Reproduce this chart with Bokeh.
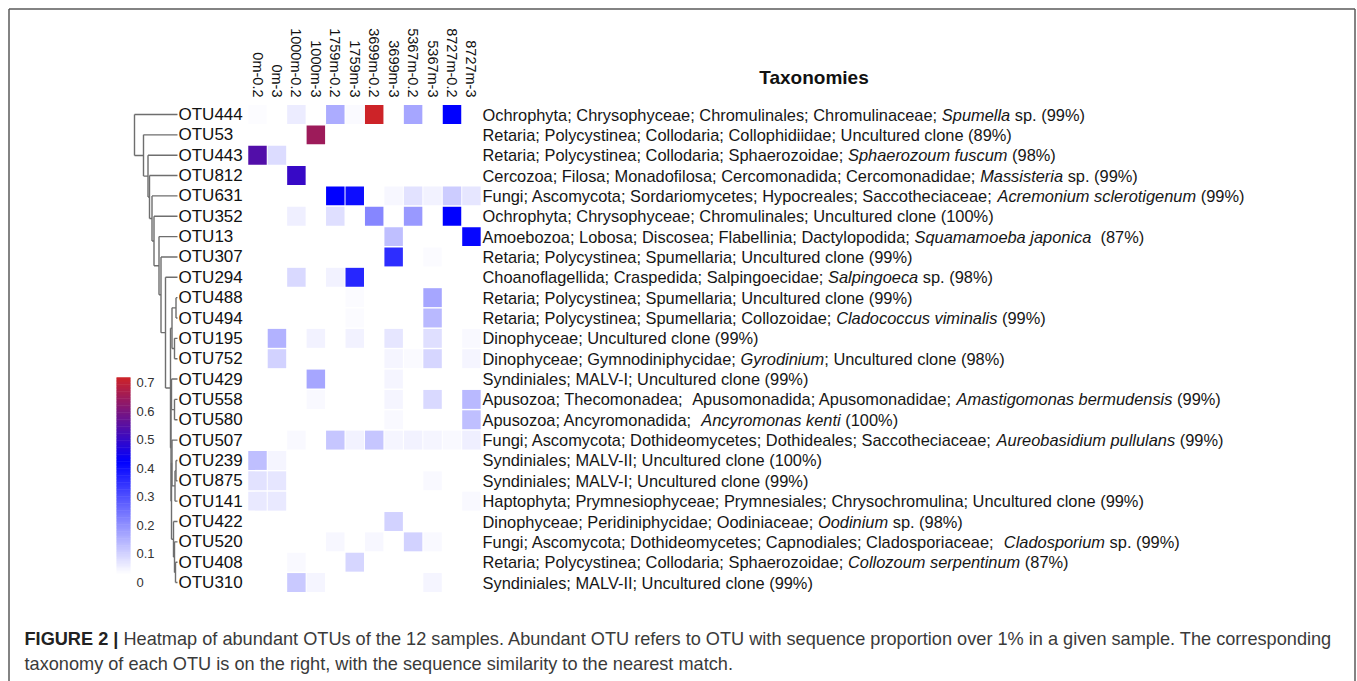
import math
import re
from bokeh.plotting import figure
from bokeh.models import Range1d, ColumnDataSource
from bokeh.core.properties import value
from bokeh.embed import file_html
from bokeh.resources import INLINE

# ---------------- data ----------------
samples = ["0m-0.2", "0m-3", "1000m-0.2", "1000m-3", "1759m-0.2", "1759m-3",
           "3699m-0.2", "3699m-3", "5367m-0.2", "5367m-3", "8727m-0.2", "8727m-3"]

otus = ["OTU444", "OTU53", "OTU443", "OTU812", "OTU631", "OTU352", "OTU13", "OTU307",
        "OTU294", "OTU488", "OTU494", "OTU195", "OTU752", "OTU429", "OTU558", "OTU580",
        "OTU507", "OTU239", "OTU875", "OTU141", "OTU422", "OTU520", "OTU408", "OTU310"]

# sequence proportion of each OTU (rows) in each sample (columns)
abundance = [
    [0.005, 0, 0.03, 0, 0.13, 0.008, 0.70, 0, 0.14, 0, 0.40, 0],
    [0, 0, 0, 0.63, 0, 0, 0, 0, 0, 0, 0, 0],
    [0.52, 0.055, 0, 0, 0, 0, 0, 0, 0, 0, 0, 0],
    [0, 0, 0.48, 0, 0, 0, 0, 0, 0, 0, 0, 0],
    [0, 0, 0, 0, 0.40, 0.38, 0, 0.012, 0.045, 0.02, 0.08, 0.04],
    [0, 0, 0.025, 0, 0.05, 0, 0.19, 0, 0.16, 0, 0.40, 0],
    [0, 0, 0, 0, 0, 0, 0, 0.10, 0, 0, 0, 0.39],
    [0, 0, 0, 0, 0, 0, 0, 0.33, 0, 0.006, 0, 0],
    [0, 0, 0.06, 0, 0.02, 0.34, 0, 0, 0, 0, 0, 0],
    [0, 0, 0, 0, 0, 0.006, 0, 0, 0, 0.14, 0, 0],
    [0, 0, 0, 0, 0, 0.006, 0, 0, 0, 0.11, 0, 0],
    [0, 0.12, 0, 0.02, 0, 0.02, 0, 0.04, 0, 0.05, 0, 0.01],
    [0, 0.07, 0, 0, 0, 0, 0, 0.015, 0.008, 0.065, 0, 0.015],
    [0, 0, 0, 0.14, 0, 0, 0, 0.015, 0, 0, 0, 0],
    [0, 0, 0, 0.01, 0, 0, 0, 0.015, 0, 0.06, 0, 0.11],
    [0, 0, 0, 0, 0, 0, 0, 0.01, 0, 0, 0, 0.10],
    [0, 0, 0.01, 0, 0.09, 0.02, 0.09, 0.015, 0.02, 0.015, 0.01, 0.025],
    [0.10, 0.015, 0, 0, 0, 0, 0, 0, 0, 0, 0, 0],
    [0.045, 0.04, 0, 0, 0, 0, 0, 0, 0, 0.01, 0, 0],
    [0.035, 0.035, 0, 0, 0, 0, 0, 0, 0, 0, 0, 0.01],
    [0, 0, 0, 0, 0, 0, 0, 0.07, 0, 0, 0, 0],
    [0, 0, 0, 0, 0.012, 0, 0.012, 0, 0.07, 0.01, 0, 0],
    [0, 0, 0.01, 0, 0, 0.065, 0, 0, 0, 0, 0, 0],
    [0, 0, 0.085, 0.015, 0, 0, 0, 0, 0, 0.015, 0, 0],
]

# taxonomy; *...* marks italic
taxonomy = [
    "Ochrophyta; Chrysophyceae; Chromulinales; Chromulinaceae; *Spumella* sp. (99%)",
    "Retaria; Polycystinea; Collodaria; Collophidiidae; Uncultured clone (89%)",
    "Retaria; Polycystinea; Collodaria; Sphaerozoidae; *Sphaerozoum fuscum* (98%)",
    "Cercozoa; Filosa; Monadofilosa; Cercomonadida; Cercomonadidae; *Massisteria* sp. (99%)",
    "Fungi; Ascomycota; Sordariomycetes; Hypocreales; Saccotheciaceae; *Acremonium sclerotigenum* (99%)",
    "Ochrophyta; Chrysophyceae; Chromulinales; Uncultured clone (100%)",
    "Amoebozoa; Lobosa; Discosea; Flabellinia; Dactylopodida; *Squamamoeba japonica*  (87%)",
    "Retaria; Polycystinea; Spumellaria; Uncultured clone (99%)",
    "Choanoflagellida; Craspedida; Salpingoecidae; *Salpingoeca* sp. (98%)",
    "Retaria; Polycystinea; Spumellaria; Uncultured clone (99%)",
    "Retaria; Polycystinea; Spumellaria; Collozoidae; *Cladococcus viminalis* (99%)",
    "Dinophyceae; Uncultured clone (99%)",
    "Dinophyceae; Gymnodiniphycidae; *Gyrodinium*; Uncultured clone (98%)",
    "Syndiniales; MALV-I; Uncultured clone (99%)",
    "Apusozoa; Thecomonadea;  Apusomonadida; Apusomonadidae; *Amastigomonas bermudensis* (99%)",
    "Apusozoa; Ancyromonadida;  *Ancyromonas kenti* (100%)",
    "Fungi; Ascomycota; Dothideomycetes; Dothideales; Saccotheciaceae; *Aureobasidium pullulans* (99%)",
    "Syndiniales; MALV-II; Uncultured clone (100%)",
    "Syndiniales; MALV-I; Uncultured clone (99%)",
    "Haptophyta; Prymnesiophyceae; Prymnesiales; Chrysochromulina; Uncultured clone (99%)",
    "Dinophyceae; Peridiniphycidae; Oodiniaceae; *Oodinium* sp. (98%)",
    "Fungi; Ascomycota; Dothideomycetes; Capnodiales; Cladosporiaceae;  *Cladosporium* sp. (99%)",
    "Retaria; Polycystinea; Collodaria; Sphaerozoidae; *Collozoum serpentinum* (87%)",
    "Syndiniales; MALV-II; Uncultured clone (99%)",
]

# hierarchical clustering of OTUs: (cluster a, cluster b, merge height); ids >= 24 are earlier merges
tree_merges = [
    (9, 10, 1.5), (11, 12, 3.0), (24, 25, 5.5), (14, 15, 3.0), (13, 27, 6.0),
    (17, 18, 1.5), (29, 19, 2.5), (16, 30, 5.5), (22, 23, 2.0), (21, 32, 3.0),
    (20, 33, 4.0), (31, 34, 6.0), (28, 35, 6.5), (26, 36, 7.0), (8, 37, 12.0),
    (7, 38, 16.5), (6, 39, 18.5), (5, 40, 23.5), (4, 41, 25.5), (3, 42, 28.0),
    (2, 43, 29.5), (1, 44, 34.0), (0, 45, 43.0),
]

cbar_ticks = [0, 0.1, 0.2, 0.3, 0.4, 0.5, 0.6, 0.7]
cbar_labels = ["0", "0.1", "0.2", "0.3", "0.4", "0.5", "0.6", "0.7"]

caption_bold = "FIGURE 2 |"
caption_line1 = "Heatmap of abundant OTUs of the 12 samples. Abundant OTU refers to OTU with sequence proportion over 1% in a given sample. The corresponding"
caption_line2 = "taxonomy of each OTU is on the right, with the sequence similarity to the nearest match."

# ---------------- layout ----------------
W, H = 1357, 681
CX0, DX = 257.0, 19.45   # screen x of first column centre, column step
RY0, DY = 114.0, 20.35   # screen y of first row centre, row step
FONT = "Liberation Sans"


def px(sx):
    return (sx - CX0) / DX


def py(sy):
    return (sy - RY0) / DY


# Helvetica / Arial advance widths (per 1000 em)
_reg = {" ": 278, "!": 278, "\"": 355, "#": 556, "$": 556, "%": 889, "&": 667, "'": 191,
        "(": 333, ")": 333, "*": 389, "+": 584, ",": 278, "-": 333, ".": 278, "/": 278,
        ":": 278, ";": 278, "?": 556, "|": 260}
for d in "0123456789":
    _reg[d] = 556
_up = dict(zip("ABCDEFGHIJKLMNOPQRSTUVWXYZ",
               [667, 667, 722, 722, 667, 611, 778, 722, 278, 500, 667, 556, 833, 722, 778,
                667, 778, 722, 667, 611, 722, 667, 944, 667, 667, 611]))
_lo = dict(zip("abcdefghijklmnopqrstuvwxyz",
               [556, 556, 500, 556, 556, 278, 556, 556, 222, 222, 500, 222, 833, 556, 556,
                556, 556, 333, 500, 278, 556, 500, 722, 500, 500, 500]))
_reg.update(_up)
_reg.update(_lo)
_bold = {"F": 611, "I": 278, "G": 778, "U": 722, "R": 722, "E": 667, " ": 278, "2": 556, "|": 280}


def tw(s, fs, table=_reg):
    return sum(table.get(c, 556) for c in s) * fs / 1000.0


def cmap(v):
    if v <= 0.4:
        t = v / 0.4
        r = g = 255 * (1 - t)
        b = 255
    else:
        s = min((v - 0.4) / 0.3, 1.0)
        r = 205 * s
        g = 35 * s
        b = 255 - (255 - 40) * s
    return "#%02x%02x%02x" % (int(round(r)), int(round(g)), int(round(b)))


p = figure(width=W, height=H, output_backend="svg", toolbar_location=None, title=None,
           x_range=Range1d(px(0), px(W)), y_range=Range1d(py(H), py(0)),
           x_axis_type=None, y_axis_type=None, min_border=0, outline_line_color=None,
           background_fill_color="white", border_fill_color="white")

# frame lines of the figure panel
fl, fr, ft = px(8.5), px(1354.5), py(8.5)
p.segment(x0=[fl, fl, fr], y0=[ft, ft, ft], x1=[fr, fl, fr], y1=[ft, py(H), py(H)],
          line_color="#5a5a5a", line_width=1.5)

# heatmap cells
cx, cy, cc = [], [], []
for r, row in enumerate(abundance):
    for c, v in enumerate(row):
        if v > 0:
            cx.append(c)
            cy.append(r)
            cc.append(cmap(v))
p.rect(x="x", y="y", width=0.95, height=0.93, fill_color="color", line_color=None,
       source=ColumnDataSource(dict(x=cx, y=cy, color=cc)))

# column labels
p.text(x=list(range(len(samples))), y=[py(97)] * len(samples), text=samples,
       angle=-math.pi / 2, text_align="right", text_baseline="middle",
       text_font=value(FONT), text_font_size="14.5px", text_color="#111111")

# row labels
p.text(x=[px(178)] * len(otus), y=list(range(len(otus))), text=otus,
       text_align="left", text_baseline="middle",
       text_font=value(FONT), text_font_size="17px", text_color="#111111")

# taxonomy texts (italic runs and double spaces placed explicitly)
TAX_X, TAX_FS = 482.0, 16.4
nx, ny, nt, ix, iy, it = [], [], [], [], [], []
for r, s in enumerate(taxonomy):
    x = TAX_X
    for k, seg in enumerate(s.split("*")):
        for piece in re.split(r"( {2,})", seg):
            lead = len(piece) - len(piece.lstrip(" "))
            x0 = x + tw(piece[:lead], TAX_FS)
            txt = piece.strip(" ")
            if txt:
                if k % 2:
                    ix.append(px(x0)); iy.append(r); it.append(txt)
                else:
                    nx.append(px(x0)); ny.append(r); nt.append(txt)
            x += tw(piece, TAX_FS)
p.text(x=nx, y=ny, text=nt, text_align="left", text_baseline="middle",
       text_font=value(FONT), text_font_size="%.1fpx" % TAX_FS, text_color="#161616")
p.text(x=ix, y=iy, text=it, text_align="left", text_baseline="middle",
       text_font=value(FONT), text_font_size="%.1fpx" % TAX_FS, text_font_style="italic",
       text_color="#161616")

p.text(x=[px(813.5)], y=[py(77)], text=["Taxonomies"], text_align="center", text_baseline="middle",
       text_font=value(FONT), text_font_size="19px", text_font_style="bold", text_color="#111111")

# dendrogram
LEAF_X = 177.0
n = len(otus)
pos = {i: (LEAF_X, float(i)) for i in range(n)}
sx0, sy0, sx1, sy1 = [], [], [], []
for k, (a, b, h) in enumerate(tree_merges):
    xn = LEAF_X - h
    (xa, ya), (xb, yb) = pos[a], pos[b]
    for (xc, yc) in ((xa, ya), (xb, yb)):
        sx0.append(px(xn)); sy0.append(yc); sx1.append(px(xc)); sy1.append(yc)
    sx0.append(px(xn)); sy0.append(ya); sx1.append(px(xn)); sy1.append(yb)
    pos[n + k] = (xn, (ya + yb) / 2.0)
p.segment(x0=sx0, y0=sy0, x1=sx1, y1=sy1, line_color="#6e6e6e", line_width=1.4)

# colour bar
CB_L, CB_R, CB_TOP, CB_BOT, VMAX = 116, 130, 377, 573, 0.7
N = 140
qt, qb, qc = [], [], []
for i in range(N):
    v0 = VMAX * i / N
    v1 = VMAX * (i + 1) / N
    qb.append(py(CB_BOT - (CB_BOT - CB_TOP) * v0 / VMAX + 0.3))
    qt.append(py(CB_BOT - (CB_BOT - CB_TOP) * v1 / VMAX - 0.3))
    qc.append(cmap((v0 + v1) / 2))
p.quad(left=px(CB_L), right=px(CB_R), top=qt, bottom=qb, fill_color=qc, line_color=None)
LAB_TOP, LAB_BOT = 382, 582
p.text(x=[px(136)] * len(cbar_ticks),
       y=[py(LAB_BOT - (LAB_BOT - LAB_TOP) * t / VMAX) for t in cbar_ticks],
       text=cbar_labels, text_align="left", text_baseline="middle",
       text_font=value(FONT), text_font_size="13px", text_color="#333333")

# caption
CAP_X, CAP_R = 24.0, 1333.0
units = (sum(_bold.get(c, 556) for c in caption_bold) + tw(" " + caption_line1, 1000)) / 1000.0
cap_fs = (CAP_R - CAP_X) / units
bold_w = sum(_bold.get(c, 556) for c in caption_bold) * cap_fs / 1000.0
p.text(x=[px(CAP_X)], y=[py(638)], text=[caption_bold], text_align="left", text_baseline="middle",
       text_font=value(FONT), text_font_size="%.2fpx" % cap_fs, text_font_style="bold", text_color="#222222")
p.text(x=[px(CAP_X + bold_w + tw(" ", cap_fs)), px(CAP_X)], y=[py(638), py(663)],
       text=[caption_line1, caption_line2], text_align="left", text_baseline="middle",
       text_font=value(FONT), text_font_size="%.2fpx" % cap_fs, text_color="#3a3a3a")

open("out.html", "w").write(file_html(p, INLINE))
